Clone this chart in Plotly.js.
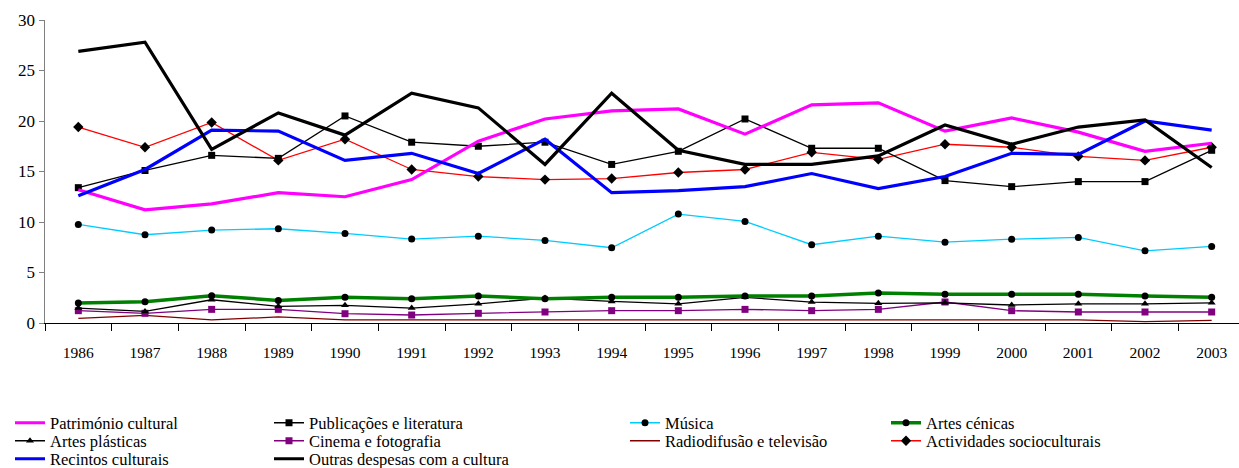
<!DOCTYPE html>
<html>
<head>
<meta charset="utf-8">
<script src="https://cdn.plot.ly/plotly-3.0.1.min.js"></script>
<style>html,body{margin:0;padding:0;background:#fff}#chart{width:1239px;height:468px}</style>
</head>
<body>
<div id="chart"></div>
<script>
const years = ["1986","1987","1988","1989","1990","1991","1992","1993","1994","1995","1996","1997","1998","1999","2000","2001","2002","2003"];
const patrimonio   = [13.2,11.2,11.8,12.9,12.5,14.2,18.0,20.2,21.0,21.2,18.7,21.6,21.8,19.0,20.3,18.9,17.0,17.8];
const publicacoes  = [13.4,15.1,16.6,16.3,20.5,17.9,17.5,17.9,15.7,17.0,20.2,17.3,17.3,14.1,13.5,14.0,14.0,17.1];
const musica       = [9.76,8.74,9.2,9.33,8.87,8.31,8.6,8.18,7.45,10.78,10.06,7.75,8.6,8.0,8.3,8.47,7.15,7.58];
const artesCenicas = [1.98,2.1,2.7,2.24,2.54,2.4,2.67,2.4,2.54,2.54,2.67,2.67,2.97,2.84,2.84,2.84,2.67,2.54];
const artesPlasticas=[1.48,1.15,2.3,1.65,1.75,1.48,1.9,2.47,2.14,1.9,2.54,2.07,1.95,2.0,1.78,1.9,1.9,2.0];
const cinema       = [1.22,0.96,1.35,1.35,0.92,0.79,0.96,1.09,1.22,1.22,1.35,1.22,1.35,2.08,1.22,1.09,1.09,1.09];
const radio        = [0.46,0.76,0.3,0.6,0.3,0.3,0.3,0.3,0.3,0.3,0.3,0.3,0.3,0.3,0.3,0.3,0.13,0.26];
const actividades  = [19.4,17.4,19.85,16.1,18.2,15.2,14.5,14.2,14.3,14.9,15.2,16.9,16.2,17.7,17.4,16.5,16.1,17.4];
const recintos     = [12.6,15.2,19.1,19.0,16.1,16.8,14.8,18.2,12.9,13.1,13.5,14.8,13.3,14.5,16.8,16.7,20.0,19.1];
const outras       = [26.9,27.8,17.2,20.8,18.6,22.75,21.3,15.7,22.75,17.1,15.7,15.7,16.55,19.6,17.7,19.4,20.1,15.4];

function tr(name, y, color, width, marker, legend, mcolor) {
  const t = {type:'scatter', x: years, y: y, name: name, legend: legend,
    line:{color: color, width: width}, mode: marker ? 'lines+markers' : 'lines'};
  if (marker) t.marker = {symbol: marker, size: marker==='diamond'?8:7, color: mcolor || '#000'};
  return t;
}
const data = [
  tr('Radiodifusão e televisão', radio, '#800000', 1.3, null, 'legend7'),
  tr('Cinema e fotografia', cinema, '#800080', 1.3, 'square', 'legend6', '#800080'),
  tr('Artes plásticas', artesPlasticas, '#000000', 1.3, 'triangle-up', 'legend5'),
  tr('Artes cénicas', artesCenicas, '#008000', 3.5, 'circle', 'legend4'),
  tr('Música', musica, '#00CCFF', 1.3, 'circle', 'legend3'),
  tr('Actividades socioculturais', actividades, '#FF0000', 1.3, 'diamond', 'legend8'),
  tr('Publicações e literatura', publicacoes, '#000000', 1.3, 'square', 'legend2'),
  tr('Património cultural', patrimonio, '#FF00FF', 3.2, null, 'legend'),
  tr('Recintos culturais', recintos, '#0000FF', 3.2, null, 'legend9'),
  tr('Outras despesas com a cultura', outras, '#000000', 3.2, null, 'legend10'),
];
const ff = "Liberation Serif";
function leg(textX, cy) {
  return {xref:'container', yref:'container', x: (textX - 42)/1239, y: 1 - cy/468, xanchor:'left', yanchor:'middle',
    orientation:'v', tracegroupgap:0, bgcolor:'rgba(0,0,0,0)',
    font:{family: ff, size:16.5, color:'#000'}, itemwidth:30};
}
const layout = {
  width:1239, height:468,
  margin:{l:45, r:0, t:20, b:145, autoexpand:false},
  paper_bgcolor:'#fff', plot_bgcolor:'#fff',
  font:{family: ff, size:16, color:'#000'},
  xaxis:{type:'category', range:[-0.5,17.41], showgrid:false, zeroline:false,
    showline:true, linecolor:'#000', linewidth:1.2, ticks:'outside', tickson:'boundaries',
    ticklen:7, tickcolor:'#000', tickwidth:1, ticklabelstandoff:15, tickangle:0,
    tickfont:{family: ff, size:15.5, color:'#000'}},
  yaxis:{range:[0,30], dtick:5, showgrid:false, zeroline:false, showline:true,
    linecolor:'#808080', linewidth:1.5, ticks:'outside', ticklen:5, tickcolor:'#808080',
    tickfont:{family: ff, size:17, color:'#000'}},
  showlegend:true,
  legend: leg(52, 423),
  legend2: leg(311, 423),
  legend3: leg(667, 423),
  legend4: leg(928, 423),
  legend5: leg(52, 441),
  legend6: leg(311, 441),
  legend7: leg(667, 441),
  legend8: leg(928, 441),
  legend9: leg(52, 459),
  legend10: leg(311, 459),
};
Plotly.newPlot('chart', data, layout, {displayModeBar:false, staticPlot:true});
</script>
</body>
</html>
